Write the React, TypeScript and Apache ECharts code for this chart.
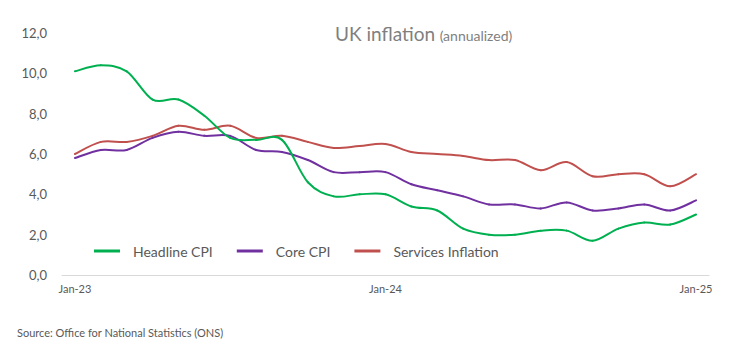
import React, { useEffect, useRef } from "react";
import * as echarts from "echarts";

const months = [
  "Jan-23", "Feb-23", "Mar-23", "Apr-23", "May-23", "Jun-23", "Jul-23", "Aug-23", "Sep-23", "Oct-23", "Nov-23", "Dec-23",
  "Jan-24", "Feb-24", "Mar-24", "Apr-24", "May-24", "Jun-24", "Jul-24", "Aug-24", "Sep-24", "Oct-24", "Nov-24", "Dec-24",
  "Jan-25",
];
const headlineCPI = [10.1, 10.4, 10.1, 8.7, 8.7, 7.9, 6.8, 6.7, 6.7, 4.6, 3.9, 4.0, 4.0, 3.4, 3.2, 2.3, 2.0, 2.0, 2.2, 2.2, 1.7, 2.3, 2.6, 2.5, 3.0];
const coreCPI = [5.8, 6.2, 6.2, 6.8, 7.1, 6.9, 6.9, 6.2, 6.1, 5.7, 5.1, 5.1, 5.1, 4.5, 4.2, 3.9, 3.5, 3.5, 3.3, 3.6, 3.2, 3.3, 3.5, 3.2, 3.7];
const servicesInflation = [6.0, 6.6, 6.6, 6.9, 7.4, 7.2, 7.4, 6.8, 6.9, 6.6, 6.3, 6.4, 6.5, 6.1, 6.0, 5.9, 5.7, 5.7, 5.2, 5.6, 4.9, 5.0, 5.0, 4.4, 5.0];

const FONT = "Lato, 'Open Sans', sans-serif";
const GREY = "#595959";

// rows: [index, v(i-1), v(i), v(i+1), v(i+2)] for a Catmull-Rom style smoothed line
function segRows(values: number[]) {
  const n = values.length;
  return values.map((v, i) => [
    i,
    values[Math.max(i - 1, 0)],
    v,
    values[Math.min(i + 1, n - 1)],
    values[Math.min(i + 2, n - 1)],
  ]);
}

function smoothSeries(name: string, values: number[], color: string) {
  const n = values.length;
  return {
    name,
    type: "custom",
    data: segRows(values),
    encode: { x: 0, y: 2 },
    itemStyle: { color },
    renderItem: (params: any, api: any) => {
      const i = api.value(0);
      if (i >= n - 1) return null;
      const i0 = Math.max(i - 1, 0);
      const i3 = Math.min(i + 2, n - 1);
      const p0 = api.coord([i0, api.value(1)]);
      const p1 = api.coord([i, api.value(2)]);
      const p2 = api.coord([i + 1, api.value(3)]);
      const p3 = api.coord([i3, api.value(4)]);
      const t = 1 / 6;
      return {
        type: "bezierCurve",
        shape: {
          x1: p1[0],
          y1: p1[1],
          x2: p2[0],
          y2: p2[1],
          cpx1: p1[0] + (p2[0] - p0[0]) * t,
          cpy1: p1[1] + (p2[1] - p0[1]) * t,
          cpx2: p2[0] - (p3[0] - p1[0]) * t,
          cpy2: p2[1] - (p3[1] - p1[1]) * t,
        },
        style: { stroke: color, lineWidth: 2, fill: "none", lineCap: "round" },
      };
    },
  };
}

export default function App() {
  const ref = useRef<HTMLDivElement>(null);
  useEffect(() => {
    if (!ref.current) return;
    const chart = echarts.init(ref.current, undefined, { renderer: "svg" });
    chart.setOption({
      animation: false,
      textStyle: { fontFamily: FONT },
      title: {
        text: "{a|UK inflation} {b|(annualized)}",
        left: 335,
        top: 24,
        padding: 0,
        textStyle: {
          fontWeight: "normal",
          rich: {
            a: { fontFamily: FONT, fontSize: 19, fontWeight: "normal", color: "#7f7f7f" },
            b: { fontFamily: FONT, fontSize: 14, fontWeight: "normal", color: "#7f7f7f", padding: [3, 0, 0, 0] },
          },
        },
      },
      legend: {
        left: 94,
        top: 244,
        padding: 0,
        itemWidth: 26,
        itemHeight: 3,
        itemGap: 24,
        icon: "rect",
        textStyle: { fontFamily: FONT, fontSize: 14, color: GREY, padding: [0, 0, 0, 8] },
        data: ["Headline CPI", "Core CPI", "Services Inflation"],
      },
      grid: { left: 62, right: 27, top: 33, bottom: 75, containLabel: false, outerBoundsMode: "none" },
      xAxis: {
        type: "category",
        data: months,
        boundaryGap: true,
        axisLine: { lineStyle: { color: "#d9d9d9", width: 1 } },
        axisTick: { show: false },
        axisLabel: { interval: 11, color: GREY, fontSize: 11, fontFamily: FONT, margin: 8 },
      },
      yAxis: {
        type: "value",
        min: 0,
        max: 12,
        interval: 2,
        splitLine: { show: false },
        axisLine: { show: false },
        axisTick: { show: false },
        axisLabel: {
          color: GREY,
          fontSize: 13,
          fontFamily: FONT,
          margin: 15,
          formatter: (v: number) => v.toFixed(1).replace(".", ","),
        },
      },
      graphic: [
        {
          type: "text",
          left: 17,
          top: 327,
          style: { text: "Source: Office for National Statistics (ONS)", fill: GREY, font: `11px ${FONT}` },
        },
      ],
      series: [
        smoothSeries("Services Inflation", servicesInflation, "#c0504d"),
        smoothSeries("Core CPI", coreCPI, "#7030a0"),
        smoothSeries("Headline CPI", headlineCPI, "#00b050"),
      ],
    });
    return () => chart.dispose();
  }, []);
  return (
    <div
      ref={ref}
      style={{ position: "absolute", left: 0, top: 0, width: 736, height: 350 }}
    />
  );
}
